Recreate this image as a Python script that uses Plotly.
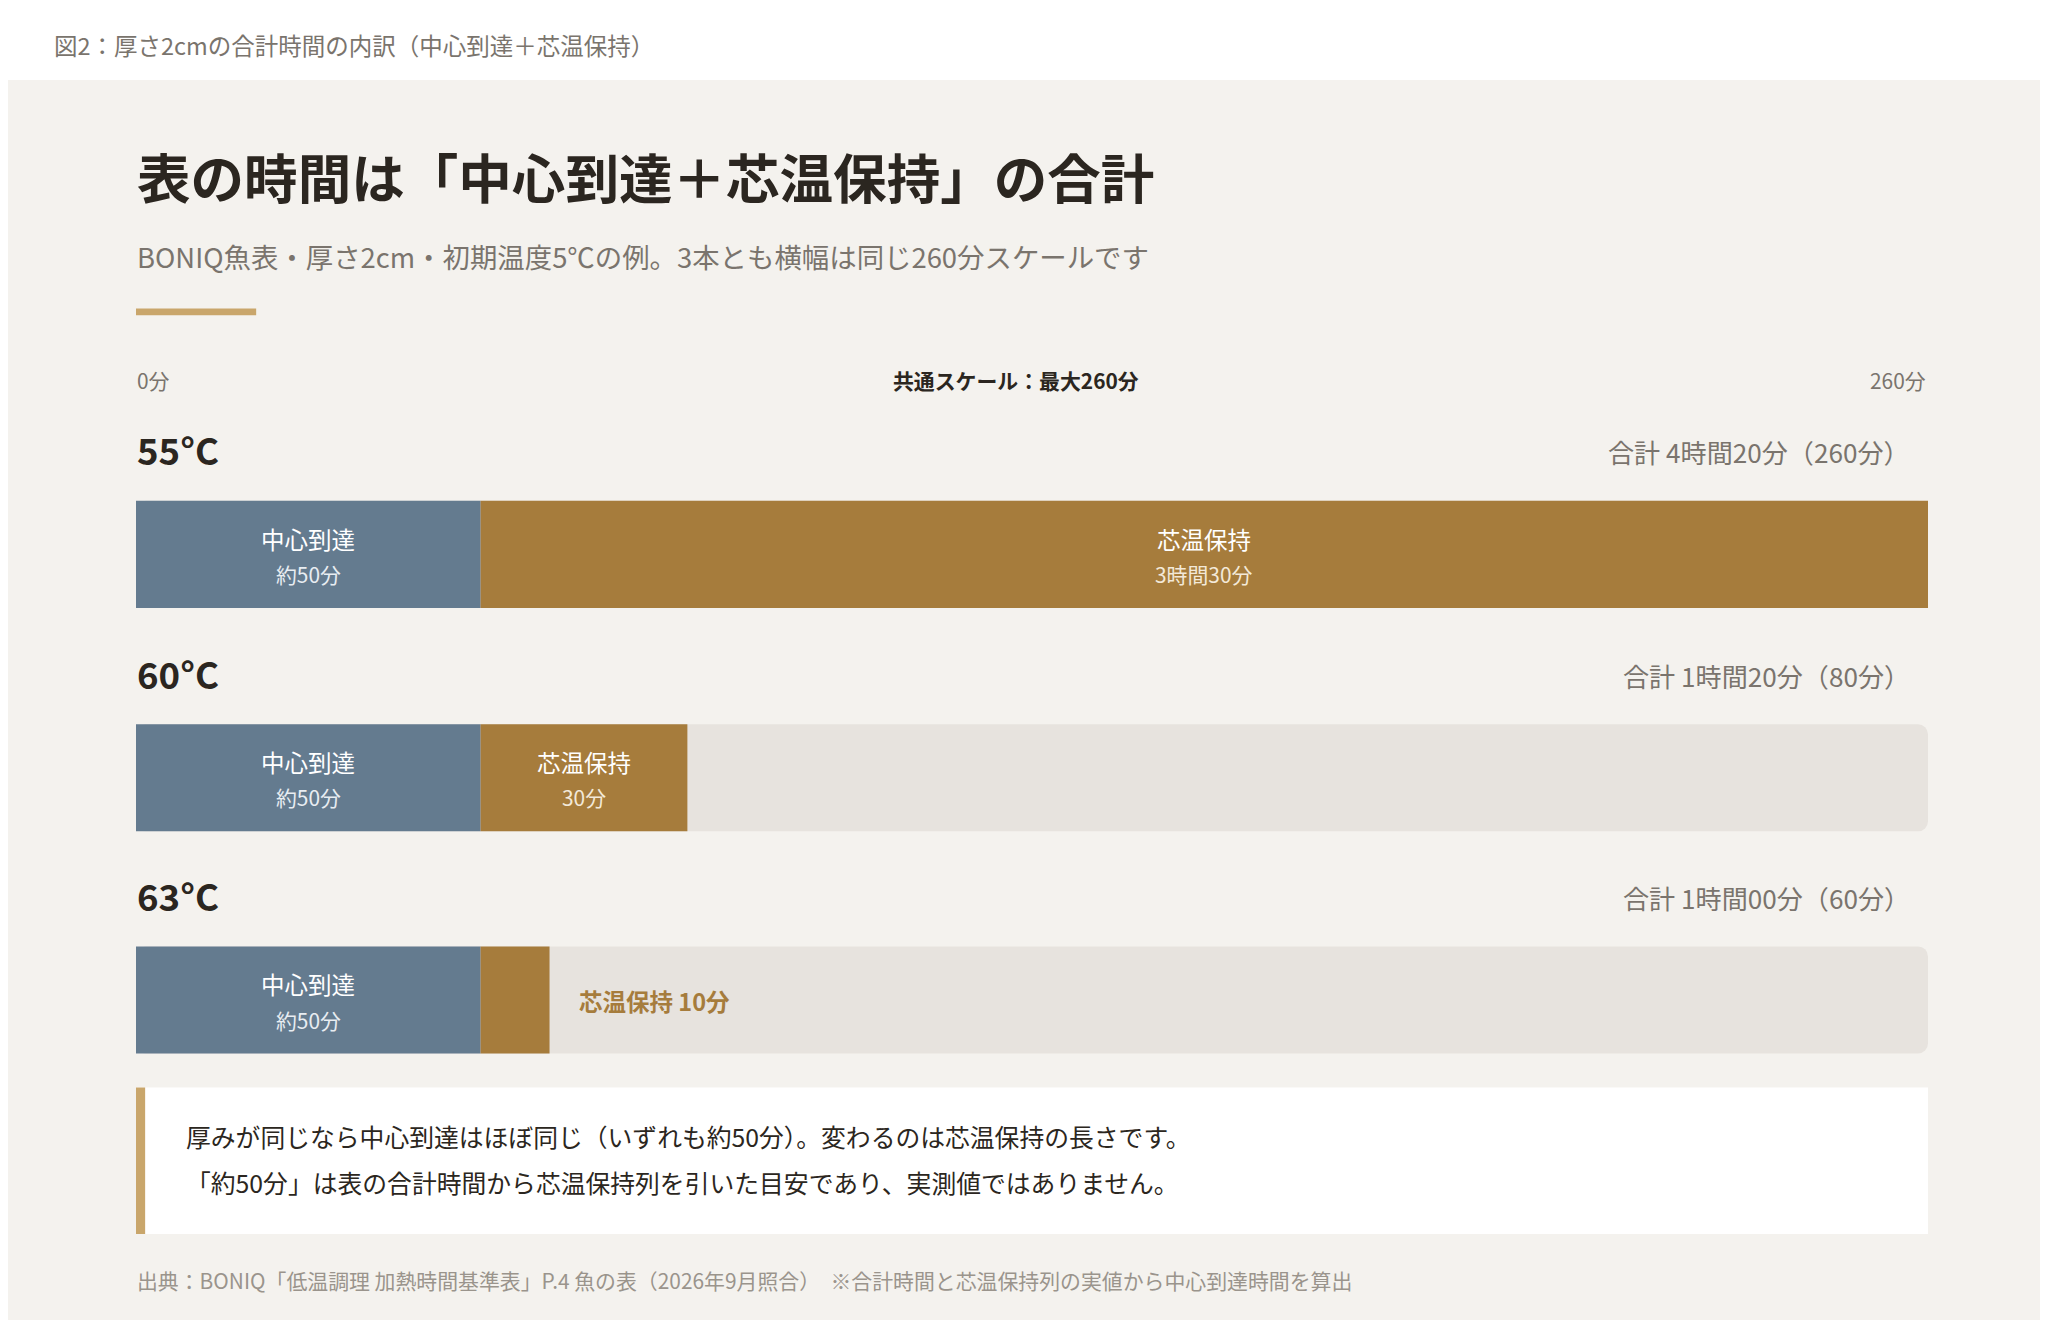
import plotly.graph_objects as go

S = 2048 / 1568
rows = ["55°C", "60°C", "63°C"]
center_min = [50, 50, 50]
hold_min = [210, 30, 10]
hold_labels = ["3時間30分", "30分", "10分"]
center_labels = ["約50分", "約50分", "約50分"]
totals = ["合計 4時間20分（260分）", "合計 1時間20分（80分）", "合計 1時間00分（60分）"]
scale_max = 260

row_y = [418, 589, 759]  # layout positions (reference px)
BAR_H = 82
BLUE, GOLD, TRACK, BG = "#647b8f", "#a67c3c", "#e7e3de", "#f4f2ee"
DARK, GRAY = "#2b2620", "#7a746d"
F = "Noto Sans CJK JP"

fig = go.Figure()
fig.add_bar(y=row_y, x=[scale_max]*3, base=0, orientation="h", width=BAR_H,
            marker=dict(color=TRACK, line_width=0, cornerradius=10), hoverinfo="skip")
fig.add_bar(y=row_y, x=center_min, base=0, orientation="h", width=BAR_H,
            marker=dict(color=BLUE, line_width=0), hoverinfo="skip")
fig.add_bar(y=row_y, x=hold_min, base=center_min, orientation="h", width=BAR_H,
            marker=dict(color=GOLD, line_width=0), hoverinfo="skip")

ann = []
def A(x, y, t, size, color=DARK, bold=False, xanchor="left", data=False):
    ann.append(dict(x=x if data else x/1568, y=y, xref="x" if data else "paper", yref="y",
                    text=("<b>%s</b>" % t) if bold else t,
                    showarrow=False, xanchor=xanchor, yanchor="middle",
                    font=dict(family=F, size=size*S, color=color)))

A(34, 28, "図2：厚さ2cmの合計時間の内訳（中心到達＋芯温保持）", 18, GRAY)
A(97, 128, "表の時間は「中心到達＋芯温保持」の合計", 41, DARK, True)
A(97, 190, "BONIQ魚表・厚さ2cm・初期温度5℃の例。3本とも横幅は同じ260分スケールです", 21, GRAY)
A(97, 285, "0分", 16, GRAY)
A(772, 285, "共通スケール：最大260分", 16, DARK, True, "center")
A(1470, 285, "260分", 16, GRAY, xanchor="right")
for i, r in enumerate(rows):
    y = row_y[i]
    A(97, y - 80, r, 28, DARK, True)
    A(1458, y - 78, totals[i], 20, GRAY, xanchor="right")
    A(center_min[i]/2, y - 12, "中心到達", 18, "white", xanchor="center", data=True)
    A(center_min[i]/2, y + 15, center_labels[i], 16, "#e8edf2", xanchor="center", data=True)
    if hold_min[i] >= 25:
        cx = center_min[i] + hold_min[i]/2
        A(cx, y - 12, "芯温保持", 18, "white", xanchor="center", data=True)
        A(cx, y + 15, hold_labels[i], 16, "#f3e9d8", xanchor="center", data=True)
    else:
        A(center_min[i] + hold_min[i] + 4, y + 1, "芯温保持 " + hold_labels[i], 18, GOLD, True, data=True)
A(135, 863, "厚みが同じなら中心到達はほぼ同じ（いずれも約50分）。変わるのは芯温保持の長さです。", 19, DARK)
A(135, 898, "「約50分」は表の合計時間から芯温保持列を引いた目安であり、実測値ではありません。", 19, DARK)
A(97, 973, "出典：BONIQ「低温調理 加熱時間基準表」P.4 魚の表（2026年9月照合）　※合計時間と芯温保持列の実値から中心到達時間を算出", 16, "#9a948c")

def R(x0, x1, y0, y1, color, layer="above"):
    return dict(type="rect", xref="paper", yref="y", x0=x0/1568, x1=x1/1568, y0=y0, y1=y1,
                fillcolor=color, line_width=0, layer=layer)

shapes = [
    R(0, 1568, 55, 1010, BG, "below"),
    R(98, 190, 230, 235, "#c9a66b"),
    R(98, 1470, 826, 938, "white", "below"),
    R(98, 105, 826, 938, "#c9a66b"),
]

fig.update_layout(
    width=2048, height=1320, margin=dict(l=0, r=0, t=0, b=0),
    paper_bgcolor="white", plot_bgcolor="rgba(0,0,0,0)", barmode="overlay",
    showlegend=False, annotations=ann, shapes=shapes,
    xaxis=dict(domain=[98/1568, 1470/1568], range=[0, scale_max], visible=False, fixedrange=True),
    yaxis=dict(domain=[0, 1], range=[1010, 0], visible=False),
)
fig.write_html("out.html")
